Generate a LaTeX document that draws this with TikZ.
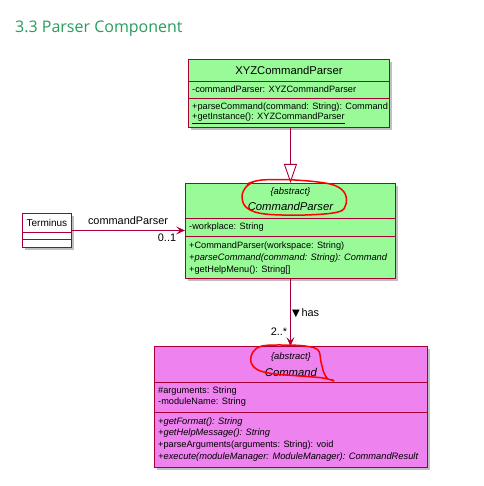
\documentclass[tikz,border=0pt]{standalone}
\usepackage{fontspec}
\setmainfont{Liberation Sans}
\newfontfamily\titlefont{Open Sans}
\newfontfamily\symfont{DejaVu Sans}
\usetikzlibrary{arrows.meta,shadows}
\definecolor{umlborder}{HTML}{A80036}
\definecolor{classgreen}{HTML}{98FB98}
\definecolor{classviolet}{HTML}{EE82EE}
\definecolor{titlegreen}{RGB}{38,158,92}

\begin{document}
\begin{tikzpicture}[x=1pt,y=-1pt,
  classbox/.style={draw=umlborder, line width=0.9pt, anchor=north west, inner sep=0pt,
    drop shadow={shadow xshift=3pt, shadow yshift=-3pt, opacity=0.35, fill=black!70}},
  sep/.style={draw=umlborder, line width=0.9pt},
  member/.style={anchor=west, inner sep=0pt, font=\fontsize{9.2}{10}\selectfont},
  imember/.style={member, font=\fontsize{9.3}{10}\selectfont\itshape},
  cname/.style={anchor=center, inner sep=0pt, font=\fontsize{11.3}{12}\selectfont},
  stereo/.style={anchor=center, inner sep=0pt, font=\fontsize{9.4}{10}\selectfont\itshape},
  link/.style={draw=umlborder, line width=0.9pt},
  lbl/.style={inner sep=0pt, font=\fontsize{10.9}{12}\selectfont},
  note/.style={draw=red, line width=1.5pt, line cap=round, line join=round}]
\useasboundingbox[fill=white] (0,0) rectangle (483,486);

% title
\node[anchor=west, inner sep=0pt, text=titlegreen, font=\titlefont\fontsize{16}{18}\selectfont]
  (title) at (15,29) {3.3 Parser Component};

% ---- XYZCommandParser ----
\node[classbox, fill=classgreen, minimum width=201pt, minimum height=68pt] (xyz) at (188,59) {};
\draw[sep] (xyz.west |- 0,81) -- (xyz.east |- 0,81);
\draw[sep] (xyz.west |- 0,98) -- (xyz.east |- 0,98);
\node[cname] (xyzname) at (xyz.north |- 0,70) {XYZCommandParser};
\node[member] (xyza1) at (192,89.5) {-commandParser: XYZCommandParser};
\node[member] (xyzm1) at (192,107) {+parseCommand(command: String): Command};
\node[member] (xyzm2) at (192,118.5) {\underline{+getInstance(): XYZCommandParser}};

% ---- CommandParser ----
\node[classbox, fill=classgreen, minimum width=210pt, minimum height=95pt] (cp) at (185,183) {};
\draw[sep] (cp.west |- 0,218) -- (cp.east |- 0,218);
\draw[sep] (cp.west |- 0,236) -- (cp.east |- 0,236);
\node[stereo] (cpst) at (cp.north |- 0,192) {\{abstract\}};
\node[cname, font=\fontsize{11.3}{12}\selectfont\itshape] (cpname) at (cp.north |- 0,206) {CommandParser};
\node[member] (cpa1) at (189,227) {-workplace: String};
\node[member] (cpm1) at (189,246) {+CommandParser(workspace: String)};
\node[imember] (cpm2) at (189,258) {+parseCommand(command: String): Command};
\node[member] (cpm3) at (189,270) {+getHelpMenu(): String[]};

% ---- Terminus ----
\node[classbox, fill=white, minimum width=49pt, minimum height=34pt] (term) at (22,213) {};
\draw[sep] (term.west |- 0,232) -- (term.east |- 0,232);
\draw[sep] (term.west |- 0,239) -- (term.east |- 0,239);
\node[cname, font=\fontsize{10}{12}\selectfont] (termname) at (term.north |- 0,223) {Terminus};

% ---- Command ----
\node[classbox, fill=classviolet, minimum width=273pt, minimum height=121pt] (cmd) at (154,346) {};
\draw[sep] (cmd.west |- 0,382) -- (cmd.east |- 0,382);
\draw[sep] (cmd.west |- 0,412) -- (cmd.east |- 0,412);
\node[stereo] (cmdst) at (cmd.north |- 0,357) {\{abstract\}};
\node[cname, font=\fontsize{11.3}{12}\selectfont\itshape] (cmdname) at (cmd.north |- 0,372) {Command};
\node[member] (cmda1) at (158,391) {\#arguments: String};
\node[member] (cmda2) at (158,402) {-moduleName: String};
\node[imember] (cmdm1) at (158,422) {+getFormat(): String};
\node[imember] (cmdm2) at (158,433.5) {+getHelpMessage(): String};
\node[member] (cmdm3) at (158,445) {+parseArguments(arguments: String): void};
\node[imember] (cmdm4) at (158,457) {+execute(moduleManager: ModuleManager): CommandResult};

% ---- connectors ----
\draw[link, -{Triangle[length=19pt, width=13pt, fill=white]}] (xyz.south -| cp.north) -- (cp.north);
\draw[link, -{Stealth[length=9pt, width=8pt, inset=4pt]}] (term.east) -- (term.east -| cp.west);
\draw[link, -{Stealth[length=9pt, width=8pt, inset=4pt]}] (cp.south) -- (cp.south |- cmd.north);

\node[lbl] (l1) at (128,221) {commandParser};
\node[lbl] (l2) at (167,238) {0..1};
\node[lbl, anchor=west] (l3) at (290,313) {\,{\symfont\fontsize{10}{10}\selectfont ▼}\,has};
\node[lbl] (l4) at (279,332) {2..*};

% ---- red hand-drawn marks ----
\draw[note] plot[smooth, tension=0.6] coordinates {
  (247,184) (262,180) (295,180) (330,184) (344,192) (346,204) (338,212)
  (305,215) (265,214) (247,208) (242,197) (246,187) (255,181)};
\draw[note] plot[smooth, tension=0.6] coordinates {
  (334,381) (323,378) (300,376) (275,374) (258,370) (251,362) (253,352)
  (262,346) (283,345) (305,346) (318,350) (321,362) (324,373) (328,379) (333,380)};
\end{tikzpicture}
\end{document}
